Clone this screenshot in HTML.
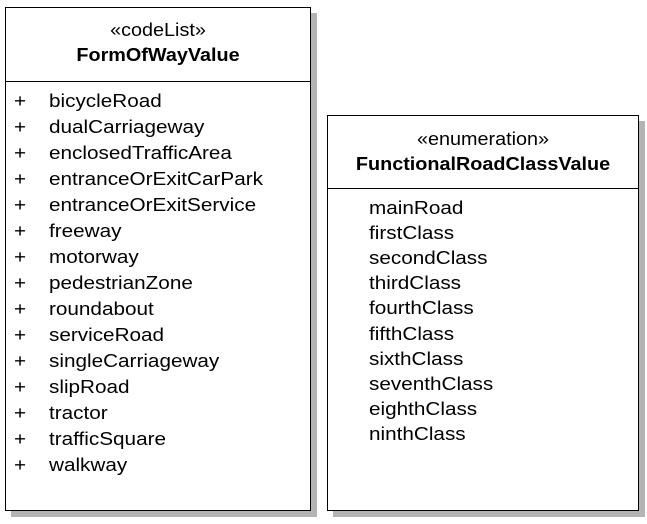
<!DOCTYPE html>
<html><head><style>
body{margin:0;width:647px;height:524px;background:#fff;position:relative;font-family:"Liberation Sans",Arial,sans-serif;color:#000;overflow:hidden}
.box{position:absolute;background:#fff;border:1.5px solid #000;box-shadow:6px 6px 0 #b4b4b4}
.hd{position:absolute;left:0;right:0;text-align:center;font-size:18px;transform:scaleX(1.1)}
.div{position:absolute;left:0;right:0;border-top:1.5px solid #000}
.r{position:absolute;font-size:18px;line-height:20px;white-space:nowrap;transform:scaleX(1.15);transform-origin:0 0}
</style></head><body>
<div class="box" style="left:5px;top:7px;width:304px;height:502px">
<div class="hd" style="top:12px">«codeList»</div>
<div class="hd" style="top:37px;font-weight:bold">FormOfWayValue</div>
<div class="div" style="top:73px"></div>
</div>
<div class="box" style="left:327px;top:115px;width:310px;height:394px">
<div class="hd" style="top:13px">«enumeration»</div>
<div class="hd" style="top:38px;font-weight:bold">FunctionalRoadClassValue</div>
<div class="div" style="top:72px"></div>
</div>
<div id="L"></div>
<script>
var a=["bicycleRoad","dualCarriageway","enclosedTrafficArea","entranceOrExitCarPark","entranceOrExitService","freeway","motorway","pedestrianZone","roundabout","serviceRoad","singleCarriageway","slipRoad","tractor","trafficSquare","walkway"];
var b=["mainRoad","firstClass","secondClass","thirdClass","fourthClass","fifthClass","sixthClass","seventhClass","eighthClass","ninthClass"];
var h="";
a.forEach(function(t,i){var y=91+i*26.0;h+='<div class="r" style="left:14px;top:'+y+'px">+</div><div class="r" style="left:49px;top:'+y+'px">'+t+'</div>';});
b.forEach(function(t,i){var y=198+i*25.1;h+='<div class="r" style="left:369px;top:'+y+'px">'+t+'</div>';});
document.getElementById("L").innerHTML=h;
</script>
</body></html>
